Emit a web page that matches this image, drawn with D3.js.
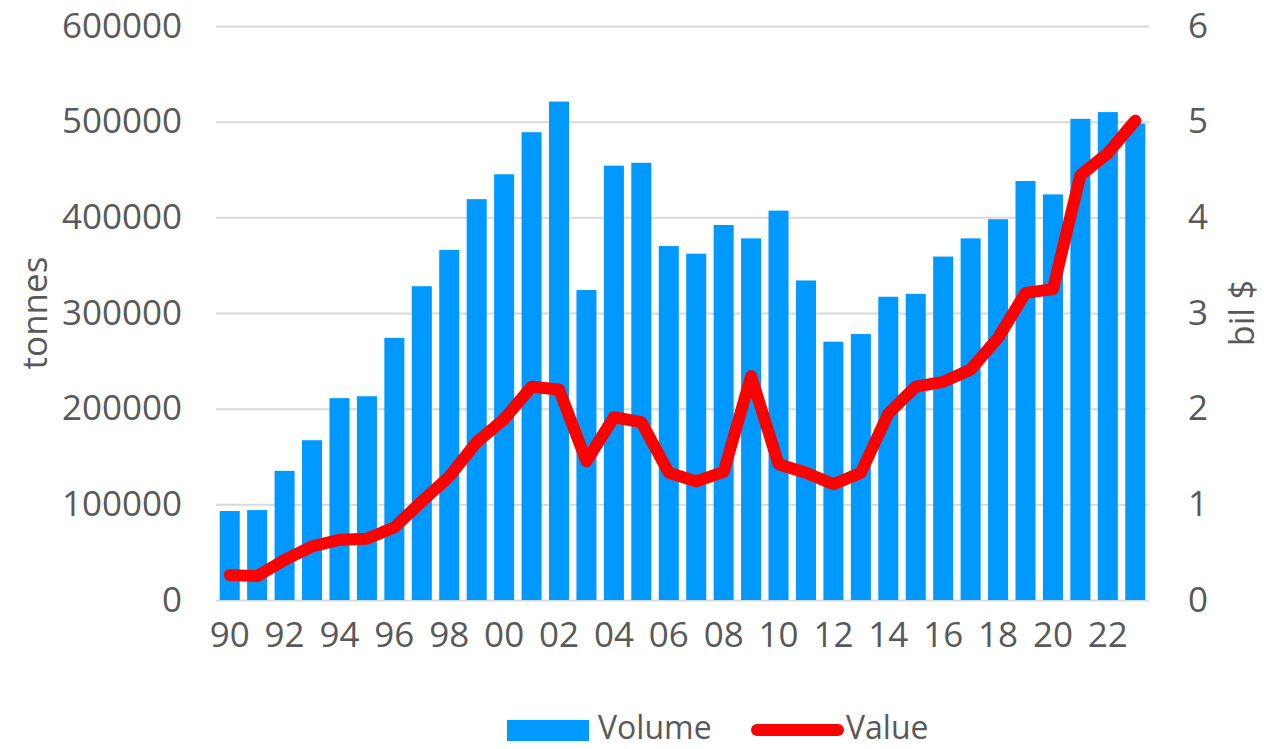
<!DOCTYPE html>
<meta charset="utf-8">
<script src="https://d3js.org/d3.v7.min.js"></script>
<style>
body { margin: 0; background: #fff; }
text { font-family: "Open Sans", sans-serif; fill: #595959; }
.grid line { stroke: #d9d9d9; stroke-width: 2px; }
.grid path { display: none; }
</style>
<svg width="1264" height="749"></svg>
<script>

// data
var years = d3.range(1990, 2024);
var volume = [93000, 94000, 135000, 167000, 211000, 213000, 274000, 328000, 366000, 419000,
              445000, 489000, 521000, 324000, 454000, 457000, 370000, 362000, 392000, 378000,
              407000, 334000, 270000, 278000, 317000, 320000, 359000, 378000, 398000, 438000,
              424000, 503000, 510000, 498000];
var value = [0.26, 0.25, 0.42, 0.56, 0.63, 0.64, 0.76, 1.03, 1.29, 1.65,
             1.89, 2.23, 2.20, 1.45, 1.91, 1.86, 1.33, 1.24, 1.34, 2.34,
             1.42, 1.33, 1.21, 1.33, 1.95, 2.23, 2.28, 2.41, 2.74, 3.21,
             3.25, 4.44, 4.67, 5.01];
var leftTicks = [0, 100000, 200000, 300000, 400000, 500000, 600000];
var rightTicks = [0, 1, 2, 3, 4, 5, 6];

var margin = {top: 26, right: 115, bottom: 149, left: 216};

var svg = d3.select("svg"),
    width = +svg.attr("width") - margin.left - margin.right,
    height = +svg.attr("height") - margin.top - margin.bottom;

var g = svg.append("g")
    .attr("transform", "translate(" + margin.left + "," + margin.top + ")");

var x = d3.scaleBand()
    .domain(years)
    .range([0, width])
    .paddingInner(0.27)
    .paddingOuter(0.135);

var y = d3.scaleLinear().domain([0, 600000]).range([height, 0]);
var y2 = d3.scaleLinear().domain([0, 6]).range([height, 0]);

// gridlines
g.append("g")
    .attr("class", "grid")
    .call(d3.axisLeft(y).tickValues(leftTicks).tickSize(-width).tickFormat(""));

// bars
g.selectAll("rect.bar")
    .data(volume)
    .enter().append("rect")
    .attr("class", "bar")
    .attr("x", function(d, i) { return x(years[i]); })
    .attr("width", x.bandwidth())
    .attr("y", function(d) { return y(d); })
    .attr("height", function(d) { return height - y(d); })
    .attr("fill", "#0099ff");

// line
var line = d3.line()
    .x(function(d, i) { return x(years[i]) + x.bandwidth() / 2; })
    .y(function(d) { return y2(d); });

g.append("path")
    .datum(value)
    .attr("d", line)
    .attr("fill", "none")
    .attr("stroke", "#ff0000")
    .attr("stroke-width", 12)
    .attr("stroke-linejoin", "round")
    .attr("stroke-linecap", "round");

// left axis labels
var leftAxis = g.append("g")
    .call(d3.axisLeft(y).tickValues(leftTicks).tickSize(0).tickPadding(34).tickFormat(d3.format("d")));
leftAxis.select(".domain").remove();
leftAxis.selectAll("text").style("font-size", "35px").attr("fill", "#595959");

// right axis labels
var rightAxis = g.append("g")
    .attr("transform", "translate(" + width + ",0)")
    .call(d3.axisRight(y2).tickValues(rightTicks).tickSize(0).tickPadding(39).tickFormat(d3.format("d")));
rightAxis.select(".domain").remove();
rightAxis.selectAll("text").style("font-size", "35px").attr("fill", "#595959");

// bottom axis labels
var bottomAxis = g.append("g")
    .attr("transform", "translate(0," + height + ")")
    .call(d3.axisBottom(x)
      .tickValues(years.filter(function(d) { return d % 2 === 0; }))
      .tickSize(0).tickPadding(22)
      .tickFormat(function(d) { return String(d).slice(2); }));
bottomAxis.select(".domain").remove();
bottomAxis.selectAll("text").style("font-size", "35px").attr("fill", "#595959");

// axis titles
svg.append("text")
    .attr("transform", "translate(47," + (margin.top + height / 2) + ") rotate(-90)")
    .attr("text-anchor", "middle")
    .style("font-size", "35px")
    .text("tonnes");

svg.append("text")
    .attr("transform", "translate(1254," + (margin.top + height / 2) + ") rotate(-90)")
    .attr("text-anchor", "middle")
    .style("font-size", "34px")
    .text("bil $");

// legend
var legend = svg.append("g");
legend.append("rect")
    .attr("x", 507).attr("y", 720)
    .attr("width", 82).attr("height", 21)
    .attr("fill", "#0099ff");
legend.append("text")
    .attr("x", 598).attr("y", 739)
    .style("font-size", "32px")
    .text("Volume");
legend.append("line")
    .attr("x1", 757).attr("x2", 838)
    .attr("y1", 730).attr("y2", 730)
    .attr("stroke", "#ff0000")
    .attr("stroke-width", 12)
    .attr("stroke-linecap", "round");
legend.append("text")
    .attr("x", 846).attr("y", 739)
    .style("font-size", "32px")
    .text("Value");

</script>
